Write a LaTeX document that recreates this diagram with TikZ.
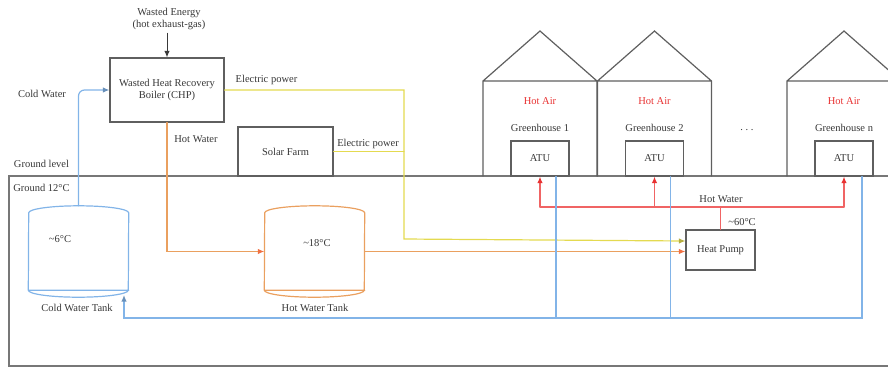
\documentclass[tikz,border=0pt]{standalone}
\usepackage{fontspec}
\setmainfont{Liberation Serif}
\usetikzlibrary{arrows.meta,calc,positioning}
\definecolor{pipeblue}{RGB}{130,180,232}
\definecolor{pipeorange}{RGB}{234,160,95}
\definecolor{pipeyellow}{RGB}{228,218,80}
\definecolor{pipered}{RGB}{240,100,100}
\definecolor{hotred}{RGB}{232,50,50}
\definecolor{boxgray}{RGB}{95,95,95}
\definecolor{textgray}{RGB}{55,55,55}

\begin{document}
\begin{tikzpicture}[x=1pt,y=-1pt,>={Latex[length=6.5pt,width=5.5pt]},line cap=round,
 font=\fontsize{10.5}{12}\selectfont,text=textgray,
 unit/.style={draw=boxgray,line width=1.2pt,align=center},
 pipe/.style={line width=1.2pt}]
\useasboundingbox (0,0) rectangle (888,368);
% ground
\draw[boxgray!85,line width=1.5pt] (890,176) -- (9,176) -- (9,366) -- (890,366);
\node (groundlvl) at (41.5,164) {Ground level};
\node (groundtemp) at (41.5,188) {Ground 12°C};
% greenhouses
\foreach \g/\gx in {1/483,2/597.5,n/787}{
 \draw[boxgray,line width=1.2pt] (\gx,176) -- (\gx,81) -- (\gx+57,31) -- (\gx+114,81) -- (\gx+114,176) (\gx,81) -- (\gx+114,81);
 \node[text=hotred] (air\g) at (\gx+57,101) {Hot Air};
 \node (gh\g) at (\gx+57,128) {Greenhouse \g};
 \node[unit,minimum width=58pt,minimum height=35pt] (atu\g) at (\gx+57,158.5) {ATU};
}
\node (dots) at (747,130) {.\ .\ .};
% plant
\node (energy) at (169,19) [align=center] {Wasted Energy\\(hot exhaust-gas)};
\node[unit,minimum width=114pt,minimum height=64pt] (chp) at (167,90) {Wasted Heat Recovery\\Boiler (CHP)};
\node[unit,minimum width=95pt,minimum height=49pt] (solar) at (285.5,151.5) {Solar Farm};
\node[unit,minimum width=69pt,minimum height=40pt] (pump) at (720.5,250) {Heat Pump};
\draw[->,boxgray!60!black,line width=1pt] (energy.south -| chp.north) -- (chp.north);
% tanks
\node[minimum width=100pt,minimum height=77pt] (coldtank) at (78.5,251.5) {};
\node[minimum width=100pt,minimum height=77pt] (hottank) at (314.5,251.5) {};
\foreach \t/\c in {coldtank/pipeblue,hottank/pipeorange}
 \draw[\c,line width=1.2pt] (\t.south west) arc[start angle=180,end angle=360,x radius=50pt,y radius=7pt]
 -- (\t.north east) arc[start angle=0,end angle=180,x radius=50pt,y radius=7pt] -- cycle
 (\t.south west) -- (\t.south east);
\node (coldtemp) at (60,239) {\textasciitilde6°C};
\node (hottemp) at (317,243) {\textasciitilde18°C};
\node (coldname) at (77,308) {Cold Water Tank};
\node (hotname) at (315,308) {Hot Water Tank};
% labels
\node (coldlbl) at (42,94) {Cold Water};
\node (hotlbl) at (196,139) {Hot Water};
\node (elec1) at (266.5,80) {Electric power};
\node (elec2) at (368,144) {Electric power};
\node (hwlbl) at (721,199) {Hot Water};
\node (pumptemp) at (742,222) {\textasciitilde60°C};
% pipes
\draw[pipe,pipeblue,-{Latex[length=6.5pt,width=5.5pt,color=pipeblue!80!black]},rounded corners=6pt] ([yshift=7pt]coldtank.north) |- (chp.west);
\draw[pipe,pipeorange,-{Latex[length=6.5pt,width=5.5pt,color=pipeorange!70!red]}] (chp.south) |- (hottank.west);
\draw[pipe,pipeorange,-{Latex[length=6.5pt,width=5.5pt,color=pipeorange!70!red]}] (hottank.east) -- (hottank.east -| pump.west);
\coordinate (powbend) at (404,239);
\draw[pipe,pipeyellow,-{Latex[length=6.5pt,width=5.5pt,color=pipeyellow!80!black]}] (chp.east) -| (powbend) -- ([yshift=9pt]pump.west);
\draw[pipe,pipeyellow] (solar.east) -- (solar.east -| powbend);
\coordinate (hwbus) at (720,207);
\draw[pipe,pipered] (pump.north) -- (pump.north |- hwbus) (atu1.south |- hwbus) -- (atun.south |- hwbus);
\foreach \g in {1,2,n}
 \draw[pipe,pipered,-{Latex[length=6.5pt,width=5.5pt,color=hotred]}] (atu\g.south |- hwbus) -- (atu\g.south);
\coordinate (ret) at (124,318);
\coordinate (coldin) at (124,295);
\draw[pipe,pipeblue,-{Latex[length=6.5pt,width=5.5pt,color=pipeblue!80!black]}] ([xshift=18pt]atun.south) |- (ret) -- (coldin);
\foreach \g in {1,2}
 \draw[pipe,pipeblue] ([xshift=16pt]atu\g.south) -- ([xshift=16pt]atu\g.south |- ret);
\end{tikzpicture}
\end{document}
